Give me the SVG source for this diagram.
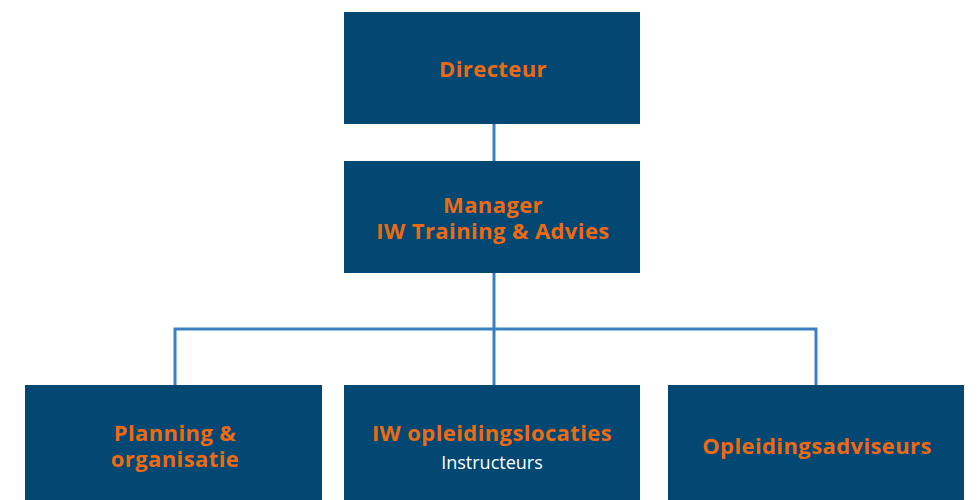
<svg xmlns="http://www.w3.org/2000/svg" width="980" height="500" viewBox="0 0 980 500">
<style>
.box{fill:#024873}
.t{font-family:"Open Sans","Liberation Sans",sans-serif;font-weight:bold;font-size:22px;letter-spacing:0.4px;fill:#EC6A14;text-anchor:middle}
.s{font-family:"Open Sans","Liberation Sans",sans-serif;font-size:18px;fill:#ffffff;text-anchor:middle}
.c{fill:none;stroke:#3A80C3;stroke-width:3}
</style>
<rect width="980" height="500" fill="#ffffff"/>
<g id="connectors">
<path class="c" d="M494 124V161"/>
<path class="c" d="M494 273V385"/>
<path class="c" d="M175 385V329H816V385"/>
</g>
<g id="directeur">
<rect class="box" x="344" y="12" width="296" height="112"/>
<text class="t" x="493" y="77">Directeur</text>
</g>
<g id="manager">
<rect class="box" x="344" y="161" width="296" height="112"/>
<text class="t" x="493" y="213">Manager</text>
<text class="t" x="493" y="239">IW Training &amp; Advies</text>
</g>
<g id="planning">
<rect class="box" x="25" y="385" width="297" height="115"/>
<text class="t" x="175" y="441">Planning &amp;</text>
<text class="t" x="175" y="467">organisatie</text>
</g>
<g id="locaties">
<rect class="box" x="344" y="385" width="296" height="115"/>
<text class="t" x="492" y="441">IW opleidingslocaties</text>
<text class="s" x="492" y="469">Instructeurs</text>
</g>
<g id="adviseurs">
<rect class="box" x="668" y="385" width="296" height="115"/>
<text class="t" x="817" y="454">Opleidingsadviseurs</text>
</g>
</svg>
